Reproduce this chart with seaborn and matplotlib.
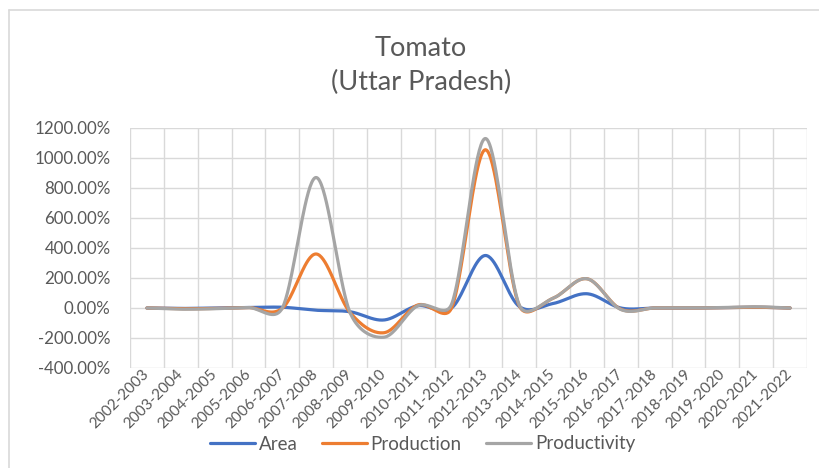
import numpy as np
import pandas as pd
import seaborn as sns
import matplotlib.pyplot as plt
from matplotlib.ticker import FuncFormatter, FixedLocator
from matplotlib.lines import Line2D

years = ['2002-2003', '2003-2004', '2004-2005', '2005-2006', '2006-2007',
         '2007-2008', '2008-2009', '2009-2010', '2010-2011', '2011-2012',
         '2012-2013', '2013-2014', '2014-2015', '2015-2016', '2016-2017',
         '2017-2018', '2018-2019', '2019-2020', '2020-2021', '2021-2022']
# percent change values
area = [0, -3, 0, 3, 5, -15, -25, -80, 15, 0, 350, 10, 30, 95, 0, 0, 0, 2, 5, 0]
production = [0, -5, -3, 3, -2, 360, -30, -165, 20, 0, 1055, 15, 65, 195, -8, 0, 0, 2, 5, 0]
productivity = [0, -8, -5, 3, 0, 870, -30, -195, 15, 25, 1130, 20, 65, 195, -10, 0, 0, 3, 8, 0]

series_names = ['Area', 'Production', 'Productivity']
colors = ['#4472C4', '#ED7D31', '#A5A5A5']


def smooth(vals, n=40):
    # bezier smoothing like excel's "smoothed line", distances measured in pixels
    sx, sy = 33.85, 0.15
    P = np.column_stack([np.arange(len(vals)) * sx, np.asarray(vals, float) * sy])
    T = np.zeros_like(P)
    T[1:-1] = P[2:] - P[:-2]
    T[0] = P[1] - P[0]
    T[-1] = P[-1] - P[-2]
    t = np.linspace(0, 1, n)[:, None]
    out = []
    for i in range(len(P) - 1):
        d = np.hypot(*(P[i + 1] - P[i]))
        n1 = np.hypot(*T[i])
        n2 = np.hypot(*T[i + 1])
        f1 = min(1 / 6, 0.5 * d / n1) if n1 > 0 else 0
        f2 = min(1 / 6, 0.5 * d / n2) if n2 > 0 else 0
        c1 = P[i] + f1 * T[i]
        c2 = P[i + 1] - f2 * T[i + 1]
        b = ((1 - t) ** 3) * P[i] + 3 * ((1 - t) ** 2) * t * c1 + 3 * (1 - t) * t ** 2 * c2 + t ** 3 * P[i + 1]
        out.append(b if i == 0 else b[1:])
    out = np.vstack(out)
    return out[:, 0] / sx, out[:, 1] / sy


frames = []
for name, vals in zip(series_names, [area, production, productivity]):
    xs, ys = smooth(vals)
    frames.append(pd.DataFrame({'x': xs, 'value': ys, 'series': name}))
df = pd.concat(frames, ignore_index=True)

sns.set_theme(style='white')
plt.rcParams['font.family'] = ['Lato', 'DejaVu Sans']
txt = '#595959'
grid = '#D9D9D9'

fig = plt.figure(figsize=(8.19, 4.68), dpi=100)
ax = fig.add_axes([130 / 819, 1 - 368 / 468, (807 - 130) / 819, (368 - 128) / 468])

sns.lineplot(data=df, x='x', y='value', hue='series', palette=colors,
             sort=False, estimator=None, linewidth=2.3, ax=ax, legend=False, zorder=3)

ax.set_xlim(-0.5, len(years) - 0.5)
ax.set_ylim(-400, 1200)
ax.set_yticks(np.arange(-400, 1201, 200))
ax.yaxis.set_major_formatter(FuncFormatter(lambda v, p: '%.2f%%' % v))
ax.set_xticks(range(len(years)))
ax.set_xticklabels(years, rotation=45, ha='right', va='center', rotation_mode='anchor')
ax.xaxis.set_minor_locator(FixedLocator(np.arange(-0.5, len(years), 1)))
ax.grid(True, which='minor', axis='x', color=grid, lw=1)
ax.grid(True, which='major', axis='y', color=grid, lw=1)
ax.grid(False, which='major', axis='x')
ax.tick_params(axis='both', which='both', length=0, labelcolor=txt)
ax.tick_params(axis='x', labelsize=11, pad=3)
ax.tick_params(axis='y', labelsize=12.2, pad=14)
for s in ax.spines.values():
    s.set_visible(False)
ax.set_xlabel('')
ax.set_ylabel('')

fig.text(0.514, 1 - 56 / 468, 'Tomato', ha='center', va='baseline', size=19.5, color=txt)
fig.text(0.514, 1 - 90 / 468, '(Uttar Pradesh)', ha='center', va='baseline', size=19.5, color=txt)

handles = [Line2D([], [], color=c, lw=2.3) for c in colors]
fig.legend(handles, series_names, loc='center', bbox_to_anchor=(0.516, 1 - 444 / 468),
           ncol=3, frameon=False, fontsize=13.5, labelcolor=txt, handlelength=2.4,
           handletextpad=0.2, columnspacing=1.3)

# chart area border
fig.add_artist(Line2D([9 / 819, 9 / 819], [0, 1 - 10 / 468], color=grid, lw=1.2, transform=fig.transFigure))
fig.add_artist(Line2D([9 / 819, 1], [1 - 10 / 468, 1 - 10 / 468], color=grid, lw=1.2, transform=fig.transFigure))

fig.savefig('out.png', dpi=100)
